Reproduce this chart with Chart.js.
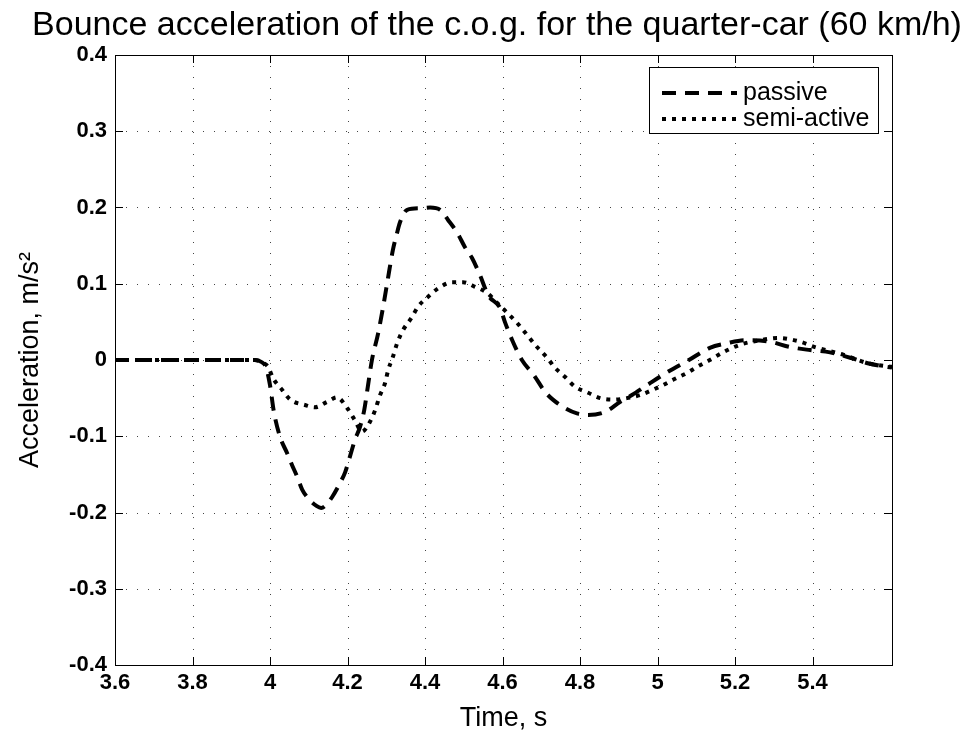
<!DOCTYPE html>
<html><head><meta charset="utf-8">
<script src="https://cdn.jsdelivr.net/npm/chart.js@4/dist/chart.umd.min.js"></script>
<style>html,body{margin:0;padding:0;background:#fff}#wrap{width:964px;height:738px;position:relative}</style>
</head><body><div id="wrap"><canvas id="c" width="964" height="738"></canvas></div>
<script>
const chartTitle = 'Bounce acceleration of the c.o.g. for the quarter-car (60 km/h)';
const xAxisLabel = 'Time, s';
const yAxisLabel = 'Acceleration, m/s\u00B2';
const seriesNames = ['passive', 'semi-active'];
const xTicks = [3.6, 3.8, 4.0, 4.2, 4.4, 4.6, 4.8, 5.0, 5.2, 5.4];
const yTicks = [-0.4, -0.3, -0.2, -0.1, 0, 0.1, 0.2, 0.3, 0.4];

const passiveTime = [3.6, 3.961, 3.979, 3.99, 4.0, 4.01, 4.026, 4.044, 4.057, 4.07, 4.083, 4.103, 4.119, 4.132, 4.145, 4.16, 4.181, 4.194, 4.206, 4.219, 4.232, 4.243, 4.253, 4.263, 4.279, 4.292, 4.305, 4.317, 4.328, 4.335, 4.354, 4.387, 4.413, 4.439, 4.459, 4.483, 4.503, 4.521, 4.542, 4.563, 4.594, 4.606, 4.625, 4.65, 4.681, 4.71, 4.73, 4.761, 4.792, 4.821, 4.865, 4.903, 4.934, 4.973, 5.022, 5.081, 5.135, 5.179, 5.226, 5.29, 5.342, 5.394, 5.445, 5.497, 5.548, 5.605];
const passiveAccel = [0, 0, -0.003, -0.010, -0.033, -0.068, -0.101, -0.122, -0.138, -0.153, -0.170, -0.184, -0.191, -0.194, -0.190, -0.180, -0.161, -0.147, -0.127, -0.105, -0.088, -0.066, -0.033, 0.0, 0.035, 0.070, 0.109, 0.144, 0.167, 0.180, 0.197, 0.199, 0.200, 0.197, 0.184, 0.167, 0.148, 0.134, 0.111, 0.085, 0.068, 0.050, 0.026, 0.0, -0.020, -0.042, -0.052, -0.063, -0.070, -0.072, -0.068, -0.055, -0.046, -0.033, -0.017, 0.0, 0.016, 0.022, 0.026, 0.024, 0.017, 0.013, 0.010, 0.003, -0.005, -0.010];

const semiTime = [3.6, 3.961, 3.979, 3.995, 4.008, 4.031, 4.052, 4.09, 4.116, 4.147, 4.173, 4.199, 4.219, 4.237, 4.258, 4.271, 4.284, 4.297, 4.305, 4.317, 4.328, 4.343, 4.366, 4.382, 4.408, 4.434, 4.47, 4.498, 4.529, 4.56, 4.586, 4.612, 4.637, 4.663, 4.689, 4.715, 4.735, 4.761, 4.787, 4.821, 4.852, 4.885, 4.921, 4.955, 4.988, 5.014, 5.04, 5.076, 5.102, 5.135, 5.169, 5.213, 5.265, 5.311, 5.368, 5.406, 5.479, 5.541, 5.605];
const semiAccel = [0, 0, -0.003, -0.009, -0.024, -0.039, -0.052, -0.059, -0.062, -0.055, -0.049, -0.063, -0.079, -0.094, -0.081, -0.066, -0.046, -0.030, -0.013, 0.004, 0.022, 0.039, 0.056, 0.070, 0.083, 0.094, 0.102, 0.102, 0.096, 0.088, 0.075, 0.062, 0.049, 0.033, 0.017, 0.003, -0.010, -0.022, -0.035, -0.043, -0.050, -0.052, -0.050, -0.046, -0.039, -0.033, -0.026, -0.017, -0.009, 0.0, 0.010, 0.020, 0.026, 0.029, 0.024, 0.017, 0.007, -0.004, -0.009];

const FONT = '"Liberation Sans", Arial, Helvetica, sans-serif';
const passiveDash = [14, 9];
const semiDash = [4, 6];

function pts(t, v) { return t.map((x, i) => ({ x: x, y: v[i] })); }
function fmt(v) { const r = Math.round(v * 10) / 10; return Object.is(r, -0) ? '0' : String(r); }

const gridPlugin = {
  id: 'dotgrid',
  beforeDatasetsDraw(chart) {
    const { ctx, chartArea: a, scales } = chart;
    const x = scales.x, y = scales.y;
    ctx.save();
    ctx.strokeStyle = '#444';
    ctx.lineWidth = 1;
    ctx.setLineDash([1, 10]);
    ctx.beginPath();
    xTicks.forEach(v => {
      const px = Math.round(x.getPixelForValue(v)) + 0.5;
      if (px <= a.left + 1 || px >= a.right - 1) return;
      ctx.moveTo(px, a.top); ctx.lineTo(px, a.bottom);
    });
    yTicks.forEach(v => {
      const py = Math.round(y.getPixelForValue(v)) + 0.5;
      if (py <= a.top + 1 || py >= a.bottom - 1) return;
      ctx.moveTo(a.left, py); ctx.lineTo(a.right, py);
    });
    ctx.stroke();
    ctx.restore();
  }
};

const framePlugin = {
  id: 'frame',
  afterDraw(chart) {
    const { ctx, chartArea: a, scales } = chart;
    const x = scales.x, y = scales.y;
    ctx.save();
    ctx.setLineDash([]);
    ctx.strokeStyle = '#000';
    ctx.lineWidth = 1;
    ctx.strokeRect(Math.round(a.left) + 0.5, Math.round(a.top) + 0.5, Math.round(a.right - a.left), Math.round(a.bottom - a.top));
    const L = 8;
    ctx.beginPath();
    xTicks.forEach(v => {
      const px = Math.round(x.getPixelForValue(v)) + 0.5;
      ctx.moveTo(px, a.bottom); ctx.lineTo(px, a.bottom - L);
      ctx.moveTo(px, a.top); ctx.lineTo(px, a.top + L);
    });
    yTicks.forEach(v => {
      const py = Math.round(y.getPixelForValue(v)) + 0.5;
      ctx.moveTo(a.left, py); ctx.lineTo(a.left + L, py);
      ctx.moveTo(a.right, py); ctx.lineTo(a.right - L, py);
    });
    ctx.stroke();

    // title
    ctx.fillStyle = '#000';
    ctx.font = '34px ' + FONT;
    ctx.textAlign = 'center';
    ctx.textBaseline = 'alphabetic';
    ctx.fillText(chartTitle, 497, 35);

    // legend
    const bx = 649.5, by = 67.5, bw = 229, bh = 66;
    ctx.fillStyle = '#fff';
    ctx.fillRect(bx, by, bw, bh);
    ctx.strokeRect(bx, by, bw, bh);
    const rows = [{ y: 93, dash: passiveDash }, { y: 119, dash: semiDash }];
    chart.data.datasets.forEach((ds, i) => {
      const r = rows[i];
      ctx.beginPath();
      ctx.lineWidth = 4;
      ctx.setLineDash(r.dash);
      ctx.moveTo(662, r.y); ctx.lineTo(737, r.y);
      ctx.stroke();
      ctx.setLineDash([]);
      ctx.lineWidth = 1;
      ctx.fillStyle = '#000';
      ctx.font = '25px ' + FONT;
      ctx.textAlign = 'left';
      ctx.textBaseline = 'middle';
      ctx.fillText(ds.label, 743, r.y);
    });
    ctx.restore();
  }
};

new Chart(document.getElementById('c'), {
  type: 'line',
  data: {
    datasets: [
      { label: seriesNames[0], data: pts(passiveTime, passiveAccel), borderColor: '#000', borderWidth: 4, borderDash: passiveDash, pointRadius: 0, fill: false, cubicInterpolationMode: 'monotone' },
      { label: seriesNames[1], data: pts(semiTime, semiAccel), borderColor: '#000', borderWidth: 4, borderDash: semiDash, pointRadius: 0, fill: false, cubicInterpolationMode: 'monotone' }
    ]
  },
  options: {
    responsive: false,
    devicePixelRatio: 1,
    animation: false,
    layout: { padding: { top: 55, right: 72, left: 0, bottom: 0 } },
    plugins: { legend: { display: false }, title: { display: false }, tooltip: { enabled: false } },
    scales: {
      x: {
        type: 'linear', min: 3.6, max: 5.605,
        afterBuildTicks: s => { s.ticks = xTicks.map(v => ({ value: v })); },
        afterFit: s => { s.height = 73; },
        grid: { display: false, drawTicks: false },
        border: { display: false },
        ticks: { color: '#000', font: { family: FONT, size: 22, weight: 'bold' }, padding: 5, maxRotation: 0, autoSkip: false, callback: v => fmt(v) },
        title: { display: true, text: xAxisLabel, color: '#000', font: { family: FONT, size: 27 }, padding: { top: 0, bottom: 3 } }
      },
      y: {
        type: 'linear', min: -0.4, max: 0.4,
        afterBuildTicks: s => { s.ticks = yTicks.map(v => ({ value: v })); },
        afterFit: s => { s.width = 115; },
        grid: { display: false, drawTicks: false },
        border: { display: false },
        ticks: { color: '#000', font: { family: FONT, size: 22, weight: 'bold' }, padding: 8, autoSkip: false, callback: v => fmt(v) },
        title: { display: true, text: yAxisLabel, color: '#000', font: { family: FONT, size: 27 }, padding: { top: 14, bottom: 0 } }
      }
    }
  },
  plugins: [gridPlugin, framePlugin]
});
</script>
</body></html>
